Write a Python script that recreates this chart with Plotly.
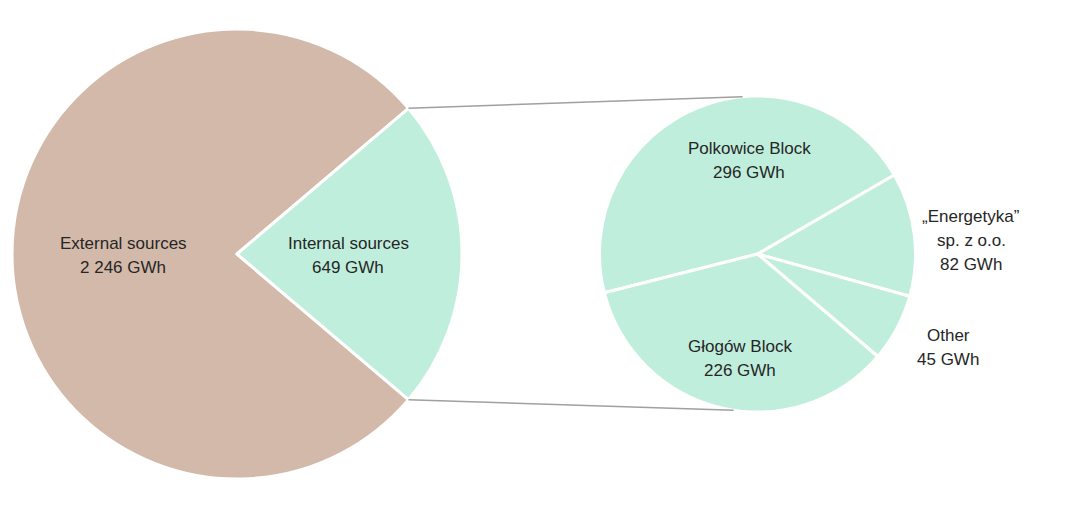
import math
import plotly.graph_objects as go

# ---- data ----
main_labels = ["External sources", "Internal sources"]
main_values = [2246, 649]
main_value_text = ["2 246 GWh", "649 GWh"]

int_labels = ["Polkowice Block", "\u201eEnergetyka\u201d\nsp. z o.o.", "Other", "G\u0142og\u00f3w Block"]
int_values = [296, 82, 45, 226]
int_value_text = ["296 GWh", "82 GWh", "45 GWh", "226 GWh"]

main_colors = ["#D3B9A9", "#C0EEDC"]
int_color = "#C0EEDC"

# ---- layout geometry (pixels) ----
W, H = 1073, 511
L_CX, L_CY, L_R = 237, 254, 225
R_CX, R_CY, R_R = 757.5, 254, 158


def dom(cx, cy, r):
    return dict(x=[(cx - r) / W, (cx + r) / W], y=[1 - (cy + r) / H, 1 - (cy - r) / H])


def px(x, y):
    return x / W, 1 - y / H


total_main = sum(main_values)
int_share_deg = main_values[1] / total_main * 360
half = int_share_deg / 2
# external slice starts at the lower edge of the internal slice and runs clockwise
main_rotation = 90 + half

int_total = sum(int_values)
polk_deg = int_values[0] / int_total * 360
start_math = 30 + polk_deg
int_rotation = 90 - start_math

fig = go.Figure()
fig.add_trace(go.Pie(
    labels=main_labels, values=main_values, sort=False, direction="clockwise",
    rotation=main_rotation, textinfo="none", hoverinfo="label+value",
    marker=dict(colors=main_colors, line=dict(color="white", width=3)),
    domain=dom(L_CX, L_CY, L_R), showlegend=False,
))
fig.add_trace(go.Pie(
    labels=[l.replace("\n", " ") for l in int_labels], values=int_values, sort=False,
    direction="clockwise", rotation=int_rotation, textinfo="none", hoverinfo="label+value",
    marker=dict(colors=[int_color] * len(int_values), line=dict(color="white", width=3)),
    domain=dom(R_CX, R_CY, R_R), showlegend=False,
))

# connector lines: from edges of the internal slice to the detail pie
la = math.radians(half)
p1 = (L_CX + L_R * math.cos(la), L_CY - L_R * math.sin(la))
p2 = (L_CX + L_R * math.cos(la), L_CY + L_R * math.sin(la))
ta, ba = math.radians(95.4), math.radians(-98.7)
q1 = (R_CX + R_R * math.cos(ta), R_CY - R_R * math.sin(ta))
q2 = (R_CX + R_R * math.cos(ba), R_CY - R_R * math.sin(ba))
shapes = []
for a, b in [(p1, q1), (p2, q2)]:
    x0, y0 = px(*a)
    x1, y1 = px(*b)
    shapes.append(dict(type="line", xref="paper", yref="paper", x0=x0, y0=y0, x1=x1, y1=y1,
                       line=dict(color="#A0A0A0", width=1.5)))

# label block centres (pixels)
main_pos = [(123, 255), (348, 255)]
int_pos = [(749, 160), (971, 240), (948, 347), (740, 358)]
LINE_GAP = 24

FONT = "Liberation Sans, Arial, sans-serif"
annotations = []
for lab, vt, (x, y) in zip(main_labels + int_labels, main_value_text + int_value_text, main_pos + int_pos):
    lines = lab.split("\n") + [vt]
    n = len(lines)
    for i, t in enumerate(lines):
        ly = y + (i - (n - 1) / 2) * LINE_GAP
        ax, ay = px(x, ly)
        annotations.append(dict(x=ax, y=ay, xref="paper", yref="paper", text=t,
                                showarrow=False, xanchor="center", yanchor="middle",
                                font=dict(family=FONT, size=17, color="#262626")))

fig.update_layout(
    width=W, height=H, margin=dict(l=0, r=0, t=0, b=0),
    paper_bgcolor="white", plot_bgcolor="white",
    shapes=shapes, annotations=annotations,
)
fig.write_html("out.html")
